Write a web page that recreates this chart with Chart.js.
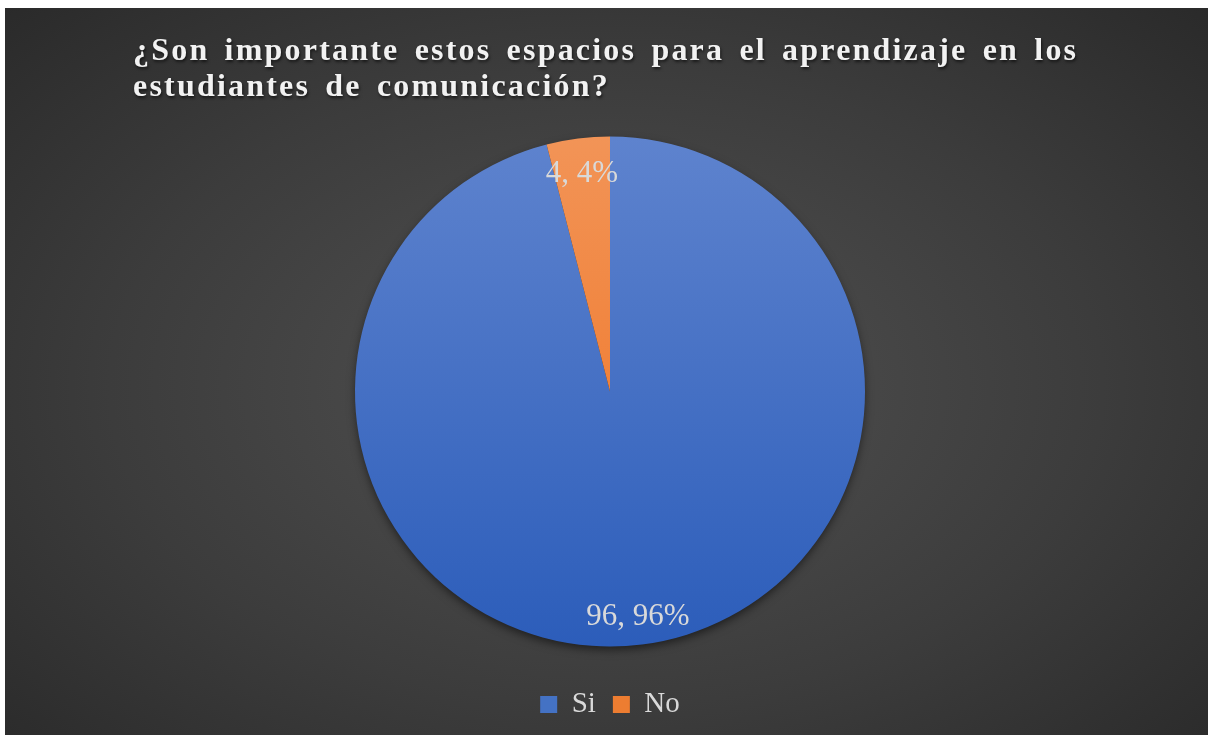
<!DOCTYPE html>
<html>
<head>
<meta charset="utf-8">
<script src="https://cdn.jsdelivr.net/npm/chart.js@4.4.1/dist/chart.umd.min.js"></script>
<style>
  html, body { margin: 0; padding: 0; background: #fff; }
  #wrap {
    position: absolute; left: 5px; top: 8px; width: 1203px; height: 727px;
    background: radial-gradient(ellipse 75% 80% at 50% 52%, #525252 0%, #3c3c3c 55%, #272727 100%);
  }
  canvas { display: block; }
</style>
</head>
<body>
<div id="wrap"><canvas id="chart" width="1203" height="727"></canvas></div>
<script>
// Chart data
const titleLines = ['¿Son importante estos espacios para el aprendizaje en los', 'estudiantes de comunicación?'];
const categories = ['Si', 'No'];
const values = [96, 4];

// Colours (top / bottom of the slice shading, flat colour for the legend)
const sliceTop = ['#5e83ce', '#f29457'];
const sliceBottom = ['#2c5dba', '#ef6f1c'];
const legendColors = ['#4472c4', '#ed7d31'];

function sliceFill(context) {
    const chart = context.chart;
    const area = chart.chartArea;
    const i = context.dataIndex;
    if (!area) return legendColors[i];
    const cy = (area.top + area.bottom) / 2;
    const r = Math.min(area.right - area.left, area.bottom - area.top) / 2;
    const g = chart.ctx.createLinearGradient(0, cy - r, 0, cy + r);
    g.addColorStop(0, sliceTop[i]);
    g.addColorStop(1, sliceBottom[i]);
    return g;
}

// Title with letter spacing, drawn on the canvas
const titlePlugin = {
    id: 'titleText',
    afterDraw(chart) {
        const ctx = chart.ctx;
        ctx.save();
        ctx.font = 'bold 32px "Liberation Serif", "Times New Roman", serif';
        ctx.letterSpacing = '2.2px';
        ctx.wordSpacing = '5px';
        ctx.fillStyle = '#f2f2f2';
        ctx.textBaseline = 'alphabetic';
        ctx.shadowColor = 'rgba(0,0,0,0.6)';
        ctx.shadowBlur = 3;
        ctx.shadowOffsetX = 1;
        ctx.shadowOffsetY = 2;
        titleLines.forEach((line, i) => ctx.fillText(line, 128, 51.5 + i * 36.5));
        ctx.restore();
    }
};

// Soft shadow under the pie
const pieShadow = {
    id: 'pieShadow',
    beforeDatasetsDraw(chart) {
        const arc = chart.getDatasetMeta(0).data[0];
        if (!arc) return;
        const ctx = chart.ctx;
        ctx.save();
        ctx.shadowColor = 'rgba(0,0,0,0.55)';
        ctx.shadowBlur = 10;
        ctx.shadowOffsetY = 4;
        ctx.fillStyle = '#303030';
        ctx.beginPath();
        ctx.arc(arc.x, arc.y, arc.outerRadius - 1, 0, Math.PI * 2);
        ctx.fill();
        ctx.restore();
    }
};

// "value, percent" labels inside the slices
const sliceLabels = {
    id: 'sliceLabels',
    afterDatasetsDraw(chart) {
        const ctx = chart.ctx;
        const meta = chart.getDatasetMeta(0);
        const total = values.reduce((a, b) => a + b, 0);
        ctx.save();
        ctx.font = '31px "Liberation Serif", "Times New Roman", serif';
        ctx.fillStyle = '#d9d9d9';
        ctx.textAlign = 'center';
        ctx.textBaseline = 'middle';
        meta.data.forEach((arc, i) => {
            const p = arc.getProps(['x', 'y', 'startAngle', 'endAngle', 'outerRadius'], true);
            const mid = (p.startAngle + p.endAngle) / 2;
            const r = p.outerRadius * 0.875;
            const label = values[i] + ', ' + Math.round(values[i] / total * 100) + '%';
            ctx.fillText(label, p.x + Math.cos(mid) * r, p.y + Math.sin(mid) * r + 4);
        });
        ctx.restore();
    }
};

new Chart(document.getElementById('chart'), {
    type: 'pie',
    data: {
        labels: categories,
        datasets: [{
            data: values,
            backgroundColor: sliceFill,
            borderWidth: 0,
            hoverOffset: 0
        }]
    },
    options: {
        responsive: false,
        animation: false,
        layout: {
            padding: { top: 102, bottom: 6, left: 350, right: 343 }
        },
        plugins: {
            tooltip: { enabled: false },
            title: { display: false },
            legend: {
                position: 'bottom',
                labels: {
                    color: '#d9d9d9',
                    font: { family: '"Liberation Serif", "Times New Roman", serif', size: 29 },
                    boxWidth: 17,
                    boxHeight: 17,
                    padding: 17,
                    generateLabels(chart) {
                        return categories.map((c, i) => ({
                            text: c,
                            fillStyle: legendColors[i],
                            strokeStyle: legendColors[i],
                            lineWidth: 0,
                            fontColor: '#d9d9d9',
                            index: i
                        }));
                    }
                }
            }
        }
    },
    plugins: [pieShadow, sliceLabels, titlePlugin]
});
</script>
</body>
</html>
